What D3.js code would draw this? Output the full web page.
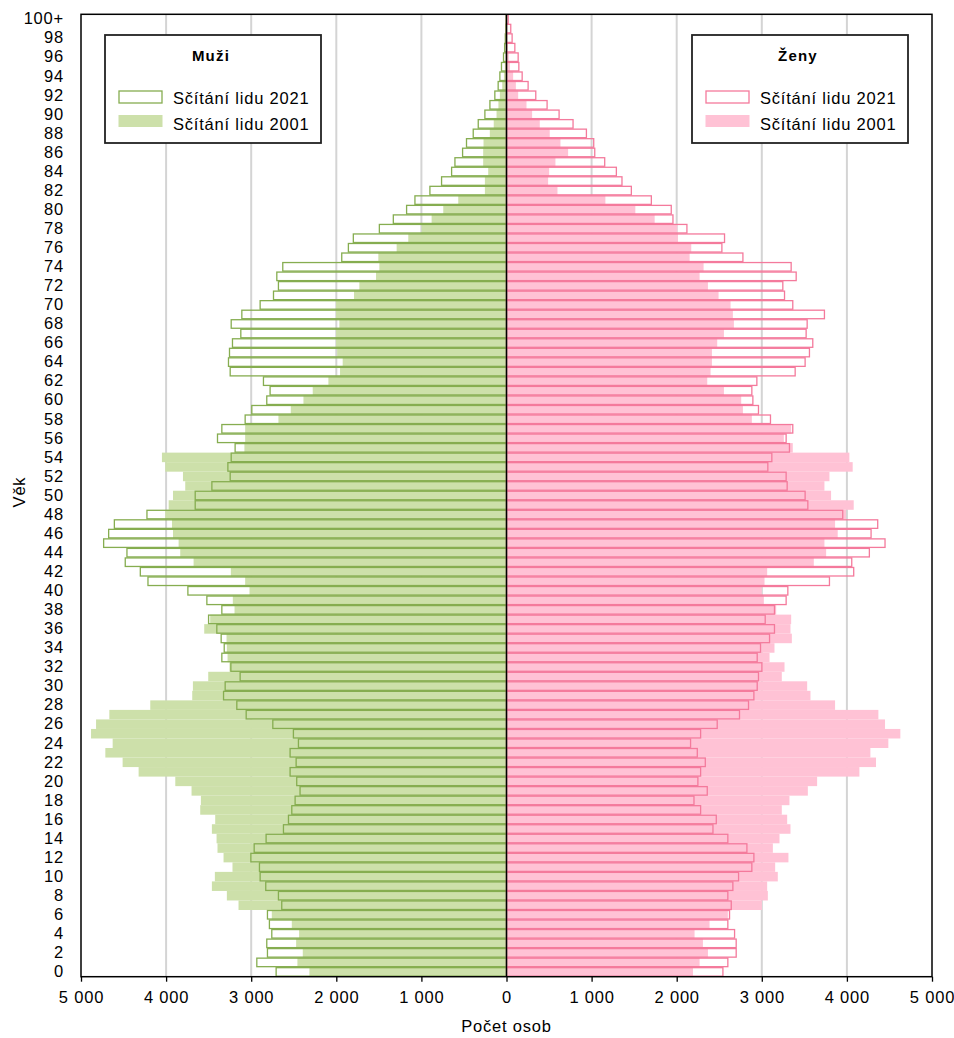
<!DOCTYPE html>
<html>
<head>
<meta charset="utf-8">
<script src="https://cdn.jsdelivr.net/npm/d3@7"></script>
<style>
  body { margin: 0; background: #fff; }
  svg { display: block; font-family: "Liberation Sans", Arial, sans-serif; }
  svg text { letter-spacing: 0.8px; }
  .tick text { font-size: 16.5px; fill: #000; }
  .domain { display: none; }
</style>
</head>
<body>
<div id="chart"></div>
<script>
// ages 0..100 (100 = 100+)
const ages = d3.range(0, 101);

const male2021 = [2707, 2934, 2809, 2817, 2758, 2786, 2809, 2641, 2680, 2829,
  2895, 2903, 3004, 2965, 2825, 2621, 2562, 2523, 2484, 2426,
  2465, 2543, 2472, 2543, 2445, 2504, 2746, 3059, 3169, 3325,
  3306, 3130, 3239, 3345, 3317, 3353, 3404, 3501, 3345, 3521,
  3744, 4213, 4303, 4480, 4460, 4734, 4675, 4608, 4225, 3658,
  3658, 3462, 3247, 3274, 3235, 3189, 3396, 3345, 3071, 2993,
  2817, 2778, 2856, 3247, 3267, 3255, 3220, 3122, 3235, 3110,
  2895, 2738, 2680, 2699, 2629, 1936, 1858, 1800, 1494, 1330,
  1174, 1076, 900, 763, 645, 606, 516, 470, 391, 332,
  254, 195, 137, 98, 78, 59, 35, 22, 14, 8, 5];

const male2001 = [2316, 2457, 2394, 2472, 2437, 2523, 2758, 3149, 3286, 3462,
  3427, 3220, 3325, 3396, 3407, 3462, 3423, 3599, 3591, 3701,
  3892, 4323, 4511, 4714, 4628, 4882, 4823, 4667, 4186, 3693,
  3685, 3505, 3255, 3278, 3286, 3290, 3552, 3482, 3196, 3216,
  3020, 3071, 3239, 3677, 3834, 3853, 3919, 3931, 4010, 3970,
  3919, 3775, 3802, 4010, 4049, 3080, 3071, 3071, 2680, 2535,
  2386, 2277, 2093, 1956, 1925, 1990, 2003, 2003, 1964, 2003,
  2003, 1792, 1729, 1533, 1494, 1506, 1291, 1154, 998, 880,
  743, 567, 254, 254, 215, 274, 274, 270, 196, 150,
  117, 95, 78, 50, 30, 20, 10, 6, 3, 2, 1];

const female2021 = [2543, 2601, 2699, 2699, 2680, 2601, 2621, 2641, 2601, 2660,
  2727, 2883, 2907, 2825, 2601, 2426, 2465, 2281, 2203, 2359,
  2249, 2281, 2336, 2242, 2163, 2281, 2476, 2738, 2844, 2907,
  2946, 2961, 3001, 2946, 2985, 3091, 3149, 3040, 3149, 3286,
  3306, 3795, 4080, 4057, 4264, 4448, 4284, 4362, 3951, 3541,
  3509, 3298, 3286, 3071, 3118, 3325, 3286, 3364, 3102, 2961,
  2895, 2883, 2942, 3392, 3509, 3560, 3599, 3521, 3533, 3736,
  3364, 3267, 3247, 3404, 3345, 2778, 2531, 2562, 2120, 1956,
  1936, 1702, 1467, 1357, 1291, 1154, 1037, 1025, 939, 782,
  618, 477, 344, 254, 184, 145, 137, 98, 66, 50, 20];

const female2001 = [2191, 2269, 2367, 2308, 2210, 2386, 2601, 3001, 3071, 3063,
  3188, 3157, 3313, 3130, 3208, 3337, 3298, 3235, 3325, 3541,
  3650, 4147, 4342, 4276, 4487, 4628, 4448, 4370, 3861, 3572,
  3533, 3235, 3267, 3091, 3149, 3353, 3337, 3345, 3169, 3024,
  3000, 3032, 3063, 3611, 3756, 3736, 3892, 3861, 3990, 4080,
  3814, 3736, 3795, 4068, 4029, 3364, 3259, 3345, 2883, 2778,
  2758, 2555, 2359, 2398, 2414, 2414, 2476, 2555, 2672, 2660,
  2633, 2492, 2367, 2269, 2316, 2152, 2171, 2015, 2007, 1741,
  1514, 1162, 599, 489, 501, 575, 724, 634, 508, 391,
  301, 235, 137, 110, 78, 40, 27, 15, 8, 4, 2];

const xTicks = [-5000, -4000, -3000, -2000, -1000, 0, 1000, 2000, 3000, 4000, 5000];
const yTicks = ages.filter(a => a % 2 === 0);

const width = 954;
const height = 1038;
const plotLeft = 81, plotRight = 932, plotTop = 14.3, plotBottom = 976.7;

const maleFill = "#cde0aa", maleLine = "#86ad50";
const femaleFill = "#ffc2d5", femaleLine = "#f47a9c";

const svg = d3.select("#chart").append("svg")
  .attr("width", width)
  .attr("height", height);

const x = d3.scaleLinear().domain([-5000, 5000]).range([plotLeft, plotRight]);
const y = d3.scaleBand().domain(ages.slice().reverse()).range([plotTop, plotBottom]).padding(0);

const cz = d3.formatLocale({ decimal: ",", thousands: "\u00a0", grouping: [3], currency: ["", ""] });
const fmt = cz.format(",");

// gridlines
svg.append("g")
  .selectAll("line")
  .data(xTicks.filter(v => v !== 0 && Math.abs(v) !== 5000))
  .enter().append("line")
  .attr("x1", d => x(d)).attr("x2", d => x(d))
  .attr("y1", plotTop).attr("y2", plotBottom)
  .attr("stroke", "#d4d4d4")
  .attr("stroke-width", 2);

// 2001 filled bars
svg.append("g").selectAll("rect")
  .data(ages).enter().append("rect")
  .attr("x", a => x(-male2001[a]))
  .attr("y", a => y(a))
  .attr("width", a => x(0) - x(-male2001[a]))
  .attr("height", y.bandwidth())
  .attr("fill", maleFill);

svg.append("g").selectAll("rect")
  .data(ages).enter().append("rect")
  .attr("x", x(0))
  .attr("y", a => y(a))
  .attr("width", a => x(female2001[a]) - x(0))
  .attr("height", y.bandwidth())
  .attr("fill", femaleFill);

// 2021 outline bars
svg.append("g").selectAll("rect")
  .data(ages).enter().append("rect")
  .attr("x", a => x(-male2021[a]))
  .attr("y", a => y(a) + 0.5)
  .attr("width", a => x(0) - x(-male2021[a]))
  .attr("height", y.bandwidth() - 1)
  .attr("fill", "none")
  .attr("stroke", maleLine)
  .attr("stroke-width", 1.3);

svg.append("g").selectAll("rect")
  .data(ages).enter().append("rect")
  .attr("x", x(0))
  .attr("y", a => y(a) + 0.5)
  .attr("width", a => x(female2021[a]) - x(0))
  .attr("height", y.bandwidth() - 1)
  .attr("fill", "none")
  .attr("stroke", femaleLine)
  .attr("stroke-width", 1.3);

// centre line
svg.append("line")
  .attr("x1", x(0)).attr("x2", x(0))
  .attr("y1", plotTop).attr("y2", plotBottom)
  .attr("stroke", "#000").attr("stroke-width", 1.5);

// frame
svg.append("rect")
  .attr("x", plotLeft).attr("y", plotTop)
  .attr("width", plotRight - plotLeft).attr("height", plotBottom - plotTop)
  .attr("fill", "none").attr("stroke", "#000").attr("stroke-width", 1.5);

// axes
svg.append("g")
  .attr("transform", `translate(${plotLeft},0)`)
  .call(d3.axisLeft(y).tickValues(yTicks).tickFormat(a => a === 100 ? "100+" : a).tickSize(0).tickPadding(17));

svg.append("g")
  .attr("transform", `translate(0,${plotBottom})`)
  .call(d3.axisBottom(x).tickValues(xTicks).tickFormat(v => fmt(Math.abs(v))).tickSize(5).tickPadding(10))
  .call(g => g.selectAll(".tick line").attr("stroke", "#000").attr("stroke-width", 1.3));

svg.append("text")
  .attr("x", x(0)).attr("y", 1032)
  .attr("text-anchor", "middle")
  .attr("font-size", 16.5)
  .text("Počet osob");

svg.append("text")
  .attr("transform", "translate(25,492) rotate(-90)")
  .attr("text-anchor", "middle")
  .attr("font-size", 16.5)
  .text("Věk");

// legends
function legend(x0, title, fill, line) {
  const g = svg.append("g").attr("transform", `translate(${x0},35)`);
  g.append("rect").attr("width", 216).attr("height", 108)
    .attr("fill", "#fff").attr("stroke", "#222").attr("stroke-width", 1.8);
  g.append("text").attr("x", 106).attr("y", 26).attr("text-anchor", "middle")
    .attr("font-size", 15).attr("font-weight", "bold").style("letter-spacing", "1.2px").text(title);
  g.append("rect").attr("x", 14).attr("y", 56).attr("width", 43).attr("height", 12)
    .attr("fill", "none").attr("stroke", line).attr("stroke-width", 1.3);
  g.append("text").attr("x", 68).attr("y", 69).attr("font-size", 16.5).text("Sčítání lidu 2021");
  g.append("rect").attr("x", 13.5).attr("y", 80).attr("width", 44).attr("height", 12)
    .attr("fill", fill);
  g.append("text").attr("x", 68).attr("y", 95).attr("font-size", 16.5).text("Sčítání lidu 2001");
}
legend(105, "Muži", maleFill, maleLine);
legend(692, "Ženy", femaleFill, femaleLine);
</script>
</body>
</html>
